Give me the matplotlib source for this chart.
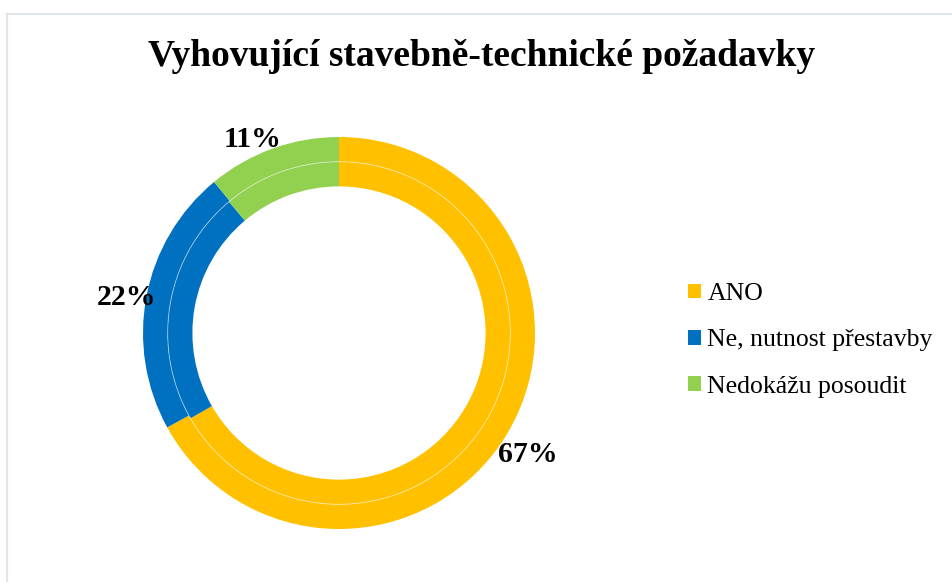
import matplotlib

matplotlib.use("Agg")
import matplotlib.pyplot as plt
from matplotlib.lines import Line2D

plt.rcParams["font.family"] = ["Liberation Serif", "DejaVu Serif"]

## Chart data
title = "Vyhovující stavebně-technické požadavky"
categories = ["ANO", "Ne, nutnost přestavby", "Nedokážu posoudit"]
outer_values = [67, 22, 11]
inner_values = [66.7, 22.2, 11.1]
colors = ["#FFC000", "#0070C0", "#92D050"]

W, H = 953, 582
fig = plt.figure(figsize=(W / 100, H / 100), dpi=100)

# Light frame round the chart area (left and top edge only visible)
frame_color = "#e1e5ea"
fig.add_artist(Line2D([7 / W, 7 / W], [0, 1 - 14 / H], color=frame_color, lw=1.6))
fig.add_artist(Line2D([7 / W, 1], [1 - 14 / H, 1 - 14 / H], color=frame_color, lw=1.6))

# Axes placed so the ring centre and radius match the original
cx, cy, R = 339, 333, 196
ax = fig.add_axes([(cx - R) / W, (H - cy - R) / H, 2 * R / W, 2 * R / H])

ring = 0.126
wedges, _, pct_texts = ax.pie(
    outer_values,
    colors=colors,
    startangle=90,
    counterclock=False,
    radius=1.0,
    wedgeprops=dict(width=ring, edgecolor="none"),
    autopct="%.0f%%",
    pctdistance=1.12,
)
ax.pie(
    inner_values,
    colors=colors,
    startangle=90,
    counterclock=False,
    radius=1.0 - ring,
    wedgeprops=dict(width=ring, edgecolor="none"),
)
# thin white separator between the two rings
sep = plt.Circle((0, 0), 1.0 - ring, fill=False, ec="white", lw=0.6, alpha=0.55)
ax.add_patch(sep)

# small nudges so the labels sit where Excel put them
nudges = [(0.0, -0.051), (0.015, -0.031), (-0.061, -0.066)]
for t, (dx, dy) in zip(pct_texts, nudges):
    x, y = t.get_position()
    t.set_position((x + dx, y + dy))
    t.set_fontsize(21.5)
    t.set_fontweight("bold")
    t.set_color("black")

ax.set_xlim(-1, 1)
ax.set_ylim(-1, 1)
ax.set_aspect("equal")
ax.axis("off")

fig.text(482 / W, 1 - 57 / H, title, ha="center", va="center",
         fontsize=27, fontweight="bold")

fig.legend(
    wedges,
    categories,
    loc="upper left",
    bbox_to_anchor=(688 / W, 1 - 283 / H),
    frameon=False,
    fontsize=18.5,
    handlelength=0.5,
    handleheight=0.5,
    handletextpad=0.25,
    labelspacing=0.95,
    borderpad=0,
    borderaxespad=0,
)

fig.savefig("out.png", dpi=100)
